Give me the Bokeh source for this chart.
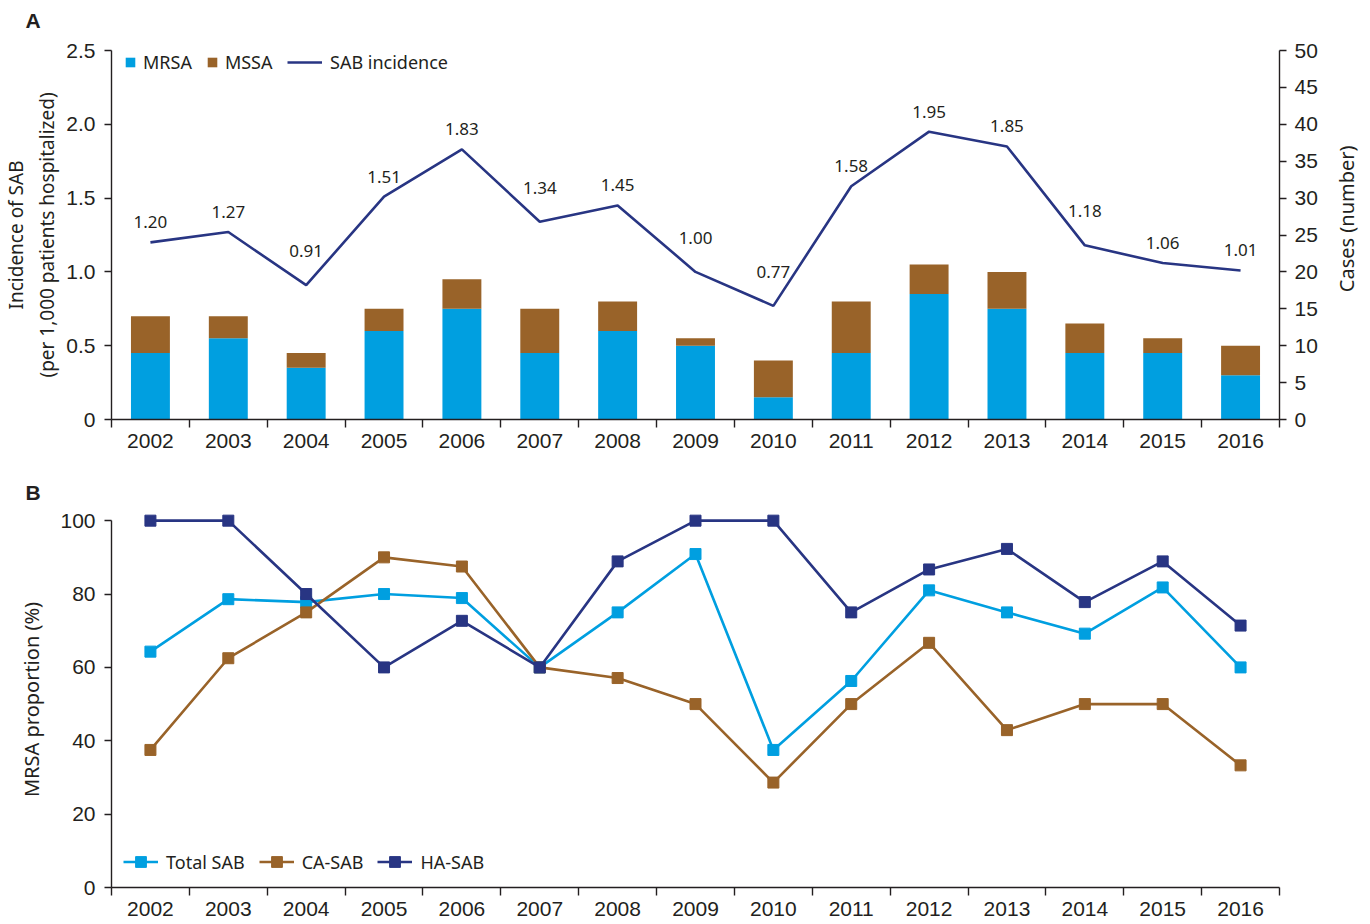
import math
from bokeh.plotting import figure
from bokeh.models import (Range1d, LinearAxis, FixedTicker, Legend, LegendItem,
                          ColumnDataSource, Label)
from bokeh.layouts import column, row
from bokeh.core.properties import value
from bokeh.embed import file_html
from bokeh.resources import INLINE

# ---------------- data ----------------
years = ["2002", "2003", "2004", "2005", "2006", "2007", "2008", "2009",
         "2010", "2011", "2012", "2013", "2014", "2015", "2016"]
mrsa_cases = [9, 11, 7, 12, 15, 9, 12, 10, 3, 9, 17, 15, 9, 9, 6]
mssa_cases = [5, 3, 2, 3, 4, 6, 4, 1, 5, 7, 4, 5, 4, 2, 4]
incidence = [1.20, 1.27, 0.91, 1.51, 1.83, 1.34, 1.45, 1.00, 0.77, 1.58,
             1.95, 1.85, 1.18, 1.06, 1.01]
total_sab_pct = [64.3, 78.6, 77.8, 80.0, 78.9, 60.0, 75.0, 90.9, 37.5, 56.3,
                 81.0, 75.0, 69.2, 81.8, 60.0]
ca_sab_pct = [37.5, 62.5, 75.0, 90.0, 87.5, 60.0, 57.1, 50.0, 28.6, 50.0,
              66.7, 42.9, 50.0, 50.0, 33.3]
ha_sab_pct = [100.0, 100.0, 80.0, 60.0, 72.7, 60.0, 88.9, 100.0, 100.0, 75.0,
              86.7, 92.3, 77.8, 88.9, 71.4]
incidence_ticks = [0, 0.5, 1.0, 1.5, 2.0, 2.5]
incidence_tick_labels = ["0", "0.5", "1.0", "1.5", "2.0", "2.5"]
cases_ticks = [0, 5, 10, 15, 20, 25, 30, 35, 40, 45, 50]
pct_ticks = [0, 20, 40, 60, 80, 100]

# ---------------- style ----------------
C_MRSA = "#009fe0"
C_MSSA = "#996329"
C_NAVY = "#283583"
C_AXIS = "#231f20"
TICK_FONT = "Liberation Sans"
TEXT_FONT = "Noto Sans"

W = 1370
FRAME_W = 1168
BORDER_L = 111
BORDER_R = W - BORDER_L - FRAME_W
n = len(years)
xs = [i + 0.5 for i in range(n)]
boundaries = list(range(n + 1))

# label offsets (px): labels sit higher where the line drops steeply into the point
label_offsets = []
for i, v in enumerate(incidence):
    drop = incidence[i - 1] - v if i > 0 else 0
    label_offsets.append(-34 if drop > 0.2 else -20)


def style_common(p):
    p.xgrid.visible = False
    p.ygrid.visible = False
    p.outline_line_color = None
    p.background_fill_color = "white"
    p.border_fill_color = "white"


def style_title(p, standoff):
    p.title.text_font = TICK_FONT
    p.title.text_font_size = "21px"
    p.title.text_font_style = "bold"
    p.title.text_color = C_AXIS
    p.title.align = "left"
    p.title.offset = -86
    p.title.standoff = standoff


def style_axis(ax, tick_out=7, standoff=9, label_size="19px"):
    ax.axis_line_color = C_AXIS
    ax.axis_line_width = 1.4
    ax.major_tick_line_color = C_AXIS
    ax.major_tick_line_width = 1.4
    ax.minor_tick_line_color = C_AXIS
    ax.minor_tick_line_width = 1.4
    ax.major_tick_in = 0
    ax.major_tick_out = tick_out
    ax.minor_tick_in = 0
    ax.minor_tick_out = 0
    ax.major_label_text_font = TICK_FONT
    ax.major_label_text_font_size = "21px"
    ax.major_label_text_color = C_AXIS
    ax.major_label_standoff = standoff
    ax.axis_label_text_font = TEXT_FONT
    ax.axis_label_text_font_size = label_size
    ax.axis_label_text_font_style = "normal"
    ax.axis_label_text_color = C_AXIS


def style_xaxis(ax):
    style_axis(ax, tick_out=0, standoff=6)
    ax.ticker = FixedTicker(ticks=xs, minor_ticks=boundaries)
    ax.minor_tick_out = 8
    ax.major_label_overrides = {x: y for x, y in zip(xs, years)}
    ax.bounds = (0, n)


def make_legend(items, loc, gw, gh, spacing=16, standoff=8):
    return Legend(items=items, orientation="horizontal", location=loc,
                  glyph_width=gw, glyph_height=gh, spacing=spacing,
                  label_standoff=standoff, label_height=24,
                  padding=0, margin=0, border_line_color=None,
                  background_fill_alpha=0,
                  label_text_font=TEXT_FONT, label_text_font_size="18px",
                  label_text_color=C_AXIS)


# ================= Panel A header ("A") =================
HDR_TOP = 36
hdrA = figure(frame_width=FRAME_W, frame_height=1,
              x_range=Range1d(0, n), y_range=Range1d(0, 1),
              x_axis_type=None, y_axis_type=None,
              min_border_left=BORDER_L, min_border_right=BORDER_R,
              min_border_top=HDR_TOP, min_border_bottom=0,
              output_backend="svg", toolbar_location=None, title="A")
style_common(hdrA)
style_title(hdrA, 10)
HDR_H = HDR_TOP + 1

# ================= Panel A =================
srcA = ColumnDataSource(dict(x=xs, mrsa=mrsa_cases, mssa=mssa_cases,
                             inc=incidence, dy=label_offsets,
                             lab=[f"{v:.2f}" for v in incidence]))

A_TOP, A_FRAME_H, A_BOTTOM, A_RIGHT = 50 - HDR_H, 369, 51, 46
pA = figure(frame_width=FRAME_W, frame_height=A_FRAME_H,
            x_range=Range1d(0, n), y_range=Range1d(0, 2.5),
            min_border_left=BORDER_L, min_border_right=A_RIGHT,
            min_border_top=A_TOP, min_border_bottom=A_BOTTOM,
            output_backend="svg", toolbar_location=None)
style_common(pA)
pA.extra_y_ranges = {"cases": Range1d(0, 50)}

bars = pA.vbar_stack(["mrsa", "mssa"], x="x", width=0.5, source=srcA,
                     color=[C_MRSA, C_MSSA], line_color=None,
                     y_range_name="cases")
inc_line = pA.line("x", "inc", source=srcA, line_color=C_NAVY, line_width=2.6)
pA.text("x", "inc", text="lab", source=srcA, text_align="center",
        text_baseline="middle", y_offset="dy",
        text_font=value(TEXT_FONT), text_font_size="17px", text_color=C_AXIS)

style_xaxis(pA.xaxis[0])
ya = pA.yaxis[0]
style_axis(ya)
ya.ticker = FixedTicker(ticks=incidence_ticks)
ya.major_label_overrides = {t: l for t, l in zip(incidence_ticks, incidence_tick_labels)}
ya.axis_label = "Incidence of SAB\n(per 1,000 patients hospitalized)"
ya.axis_label_standoff = 3

yr = LinearAxis(y_range_name="cases", ticker=FixedTicker(ticks=cases_ticks))
style_axis(yr, tick_out=7, standoff=8)
pA.add_layout(yr, "right")

legA1 = make_legend([LegendItem(label="MRSA", renderers=[bars[0]]),
                     LegendItem(label="MSSA", renderers=[bars[1]])],
                    (13, 345), 12, 12, spacing=14, standoff=7)
legA2 = make_legend([LegendItem(label="SAB incidence", renderers=[inc_line])],
                    (176, 345), 35, 12)
pA.add_layout(legA1, "center")
pA.add_layout(legA2, "center")

# right-hand axis title, reading bottom-to-top, in a narrow strip beside panel A
A_H = A_TOP + A_FRAME_H + A_BOTTOM
A_W = BORDER_L + FRAME_W + A_RIGHT
side_w = W - A_W
sideA = figure(width=side_w, height=A_H, x_range=Range1d(0, side_w),
               y_range=Range1d(0, A_H), x_axis_type=None, y_axis_type=None,
               min_border=0, output_backend="svg", toolbar_location=None)
style_common(sideA)
sideA.add_layout(Label(x=1346 - A_W, y=A_BOTTOM + A_FRAME_H / 2,
                       text="Cases (number)", angle=math.pi / 2,
                       text_align="center", text_baseline="middle",
                       text_font=TEXT_FONT, text_font_size="20px",
                       text_color=C_AXIS))

# ================= Panel B =================
srcB = ColumnDataSource(dict(x=xs, tot=total_sab_pct, ca=ca_sab_pct, ha=ha_sab_pct))

pB = figure(frame_width=FRAME_W, frame_height=376,
            x_range=Range1d(0, n), y_range=Range1d(0, 102.5),
            min_border_left=BORDER_L, min_border_right=BORDER_R,
            min_border_top=40, min_border_bottom=38,
            output_backend="svg", toolbar_location=None, title="B")
style_common(pB)
style_title(pB, 16)

items = []
for col, color, name in [("tot", C_MRSA, "Total SAB"),
                         ("ca", C_MSSA, "CA-SAB"),
                         ("ha", C_NAVY, "HA-SAB")]:
    l = pB.line("x", col, source=srcB, line_color=color, line_width=2.6)
    s = pB.scatter("x", col, source=srcB, marker="square", size=11,
                   fill_color=color, line_color=color)
    items.append(LegendItem(label=name, renderers=[l, s]))

style_xaxis(pB.xaxis[0])
yb = pB.yaxis[0]
style_axis(yb, label_size="20px")
yb.ticker = FixedTicker(ticks=pct_ticks)
yb.bounds = (0, 100)
yb.axis_label = "MRSA proportion (%)"
yb.axis_label_standoff = 12

legB = make_legend(items, (12, 12), 35, 27, spacing=14)
pB.add_layout(legB, "center")

layout = column(hdrA, row(pA, sideA, spacing=0), pB, spacing=0)

with open("out.html", "w") as f:
    f.write(file_html(layout, INLINE))
